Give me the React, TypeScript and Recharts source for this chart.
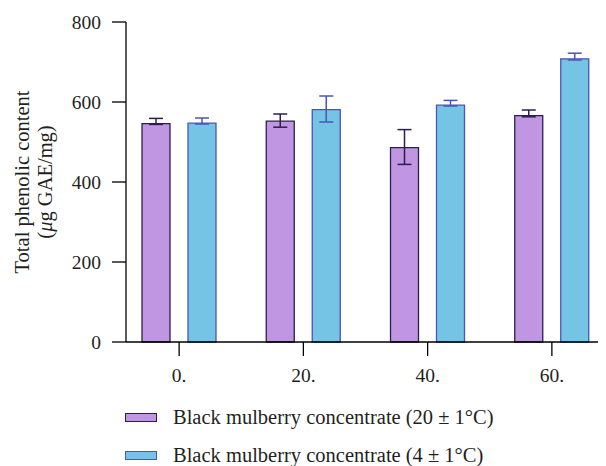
import { BarChart, Bar, XAxis, YAxis, ErrorBar } from 'recharts';

const days = ['0.', '20.', '40.', '60.'];

// Black mulberry concentrate (20 ± 1°C)
const warmValues = [546, 552, 486, 566];
const warmErrLow = [2, 15, 42, 3];
const warmErrHigh = [13, 18, 45, 14];

// Black mulberry concentrate (4 ± 1°C)
const coldValues = [547, 581, 592, 708];
const coldErrLow = [2, 31, 2, 3];
const coldErrHigh = [13, 34, 12, 14];

const yTicks = [0, 200, 400, 600, 800];

const series = [
  { key: 'warm', name: 'Black mulberry concentrate (20 ± 1°C)', fill: '#c095e1', stroke: '#2b1f4f' },
  { key: 'cold', name: 'Black mulberry concentrate (4 ± 1°C)', fill: '#75c3e5', stroke: '#4a55b6' },
];

const data = days.map((day, i) => ({
  day,
  warm: warmValues[i],
  warmErr: [warmErrLow[i], warmErrHigh[i]],
  cold: coldValues[i],
  coldErr: [coldErrLow[i], coldErrHigh[i]],
}));

const FONT = '"Liberation Serif", "Times New Roman", serif';
const TEXT = '#231f20';

function YLabel() {
  const cy = 174;
  return (
    <g fontFamily={FONT} fontSize={20.5} fill={TEXT}>
      <text x={14} y={cy} textAnchor="middle" dominantBaseline="central" transform={`rotate(-90, 14, ${cy})`}>
        Total phenolic content
      </text>
      <text x={37} y={cy} textAnchor="middle" dominantBaseline="central" transform={`rotate(-90, 37, ${cy})`}>
        (<tspan fontStyle="italic">μ</tspan>g GAE/mg)
      </text>
    </g>
  );
}

export default function App() {
  return (
    <div style={{ position: 'relative', width: 598, height: 458, fontFamily: FONT }}>
      <BarChart
        width={598}
        height={458}
        data={data}
        margin={{ top: 14, right: 0, bottom: 64, left: 0 }}
        barSize={28}
        barGap={18}
        style={{ fontFamily: FONT }}
      >
        <XAxis
          dataKey="day"
          padding={{ left: -9, right: -8 }}
          height={60}
          tickSize={14}
          tickMargin={12}
          stroke="#000"
          strokeWidth={1.3}
          tick={{ fill: TEXT, fontSize: 19.5, fontFamily: FONT }}
        />
        <YAxis
          width={118}
          domain={[0, 800]}
          ticks={yTicks}
          tickSize={14}
          tickMargin={11}
          stroke="#000"
          strokeWidth={1.3}
          tick={{ fill: TEXT, fontSize: 19.5, fontFamily: FONT }}
          label={{ content: <YLabel /> }}
        />
        {series.map((s) => (
          <Bar
            key={s.key}
            dataKey={s.key}
            name={s.name}
            fill={s.fill}
            stroke={s.stroke}
            strokeWidth={1.3}
            isAnimationActive={false}
          >
            <ErrorBar dataKey={`${s.key}Err`} width={7} stroke={s.stroke} strokeWidth={1.5} />
          </Bar>
        ))}
      </BarChart>

      {/* legend */}
      {series.map((s, i) => (
        <div
          key={s.key}
          style={{
            position: 'absolute',
            left: 117,
            top: 399 + i * 38,
            height: 20,
            display: 'flex',
            alignItems: 'center',
            fontFamily: FONT,
            fontSize: 20.5,
            color: TEXT,
            whiteSpace: 'nowrap',
          }}
        >
          <span
            style={{
              width: 32,
              height: 9,
              boxSizing: 'border-box',
              background: s.fill,
              border: `1.3px solid ${s.stroke}`,
              marginRight: 16,
            }}
          />
          {s.name}
        </div>
      ))}
    </div>
  );
}
